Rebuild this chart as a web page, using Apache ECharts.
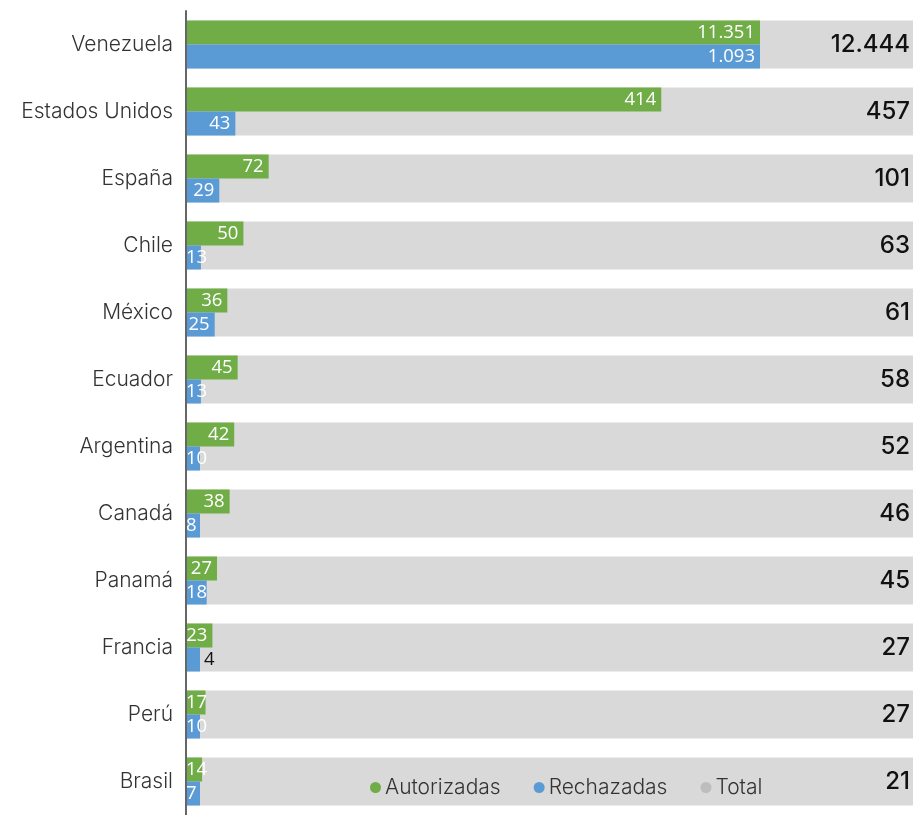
<!DOCTYPE html>
<html>
<head>
<meta charset="utf-8">
<script src="https://cdn.jsdelivr.net/npm/echarts@6/dist/echarts.min.js"></script>
<style>
html,body{margin:0;padding:0;background:#fff;}
#chart{width:913px;height:815px;}
</style>
</head>
<body>
<div id="chart"></div>
<script>
const categories = ['Venezuela','Estados Unidos','España','Chile','México','Ecuador','Argentina','Canadá','Panamá','Francia','Perú','Brasil'];
const autorizadas = [11351,414,72,50,36,45,42,38,27,23,17,14];
const rechazadas = [1093,43,29,13,25,13,10,8,18,4,10,7];
const totales = [12444,457,101,63,61,58,52,46,45,27,27,21];

const TXT = 'Inter';
const NUM = 'Open Sans';
function fmt(n){ return String(n).replace(/\B(?=(\d{3})+(?!\d))/g,'.'); }

function barData(arr){
  return arr.map(v => {
    if (v < 5) return {value:v, label:{position:'right', color:'#111', distance:4}};
    if (v < 22) return {value:v, label:{position:'insideLeft', distance:0}};
    return v;
  });
}

const chart = echarts.init(document.getElementById('chart'), null, {renderer:'canvas'});
chart.setOption({
  animation:false,
  textStyle:{fontFamily:TXT},
  grid:[
    {left:186, right:0, top:11, height:806},
    {left:186, right:153, top:11, height:806}
  ],
  xAxis:[
    {gridIndex:0, type:'value', min:0, max:function(v){return v.min;}, show:false},
    {gridIndex:1, type:'value', min:0, max:500, show:false}
  ],
  yAxis:[
    {gridIndex:0, type:'category', data:categories, inverse:true, z:10,
     axisLine:{show:true, lineStyle:{color:'#666', width:2}},
     axisTick:{show:false},
     axisLabel:{color:'#333', fontSize:21, fontFamily:TXT, fontWeight:300, margin:13}},
    {gridIndex:1, type:'category', data:categories, inverse:true, show:false}
  ],
  legend:{
    left:365, top:772, icon:'circle', itemWidth:11, itemHeight:11, itemGap:33,
    textStyle:{color:'#333', fontSize:21, fontFamily:TXT, fontWeight:300, padding:[0,0,0,-1]},
    data:['Autorizadas','Rechazadas',{name:'Total', itemStyle:{color:'#bdbdbd'}}]
  },
  series:[
    {name:'Total', type:'bar', xAxisIndex:0, yAxisIndex:0, data:totales, barWidth:48, clip:true, z:1,
     itemStyle:{color:'#d9d9d9'},
     label:{show:true, position:'insideRight', distance:3, color:'#111', fontSize:24, fontWeight:500, fontFamily:TXT,
            formatter:p=>fmt(p.value)}},
    {name:'Autorizadas', type:'bar', xAxisIndex:1, yAxisIndex:1, data:barData(autorizadas), barWidth:24, barGap:'0%', barMinHeight:14, clip:true, z:2,
     itemStyle:{color:'#70ad47'},
     label:{show:true, position:'insideRight', distance:5, color:'#fff', fontSize:18.5, fontFamily:NUM,
            formatter:p=>fmt(p.value)}},
    {name:'Rechazadas', type:'bar', xAxisIndex:1, yAxisIndex:1, data:barData(rechazadas), barWidth:24, barGap:'0%', barMinHeight:14, clip:true, z:2,
     itemStyle:{color:'#5b9bd5'},
     label:{show:true, position:'insideRight', distance:5, color:'#fff', fontSize:18.5, fontFamily:NUM,
            formatter:p=>fmt(p.value)}}
  ]
});
</script>
</body>
</html>
